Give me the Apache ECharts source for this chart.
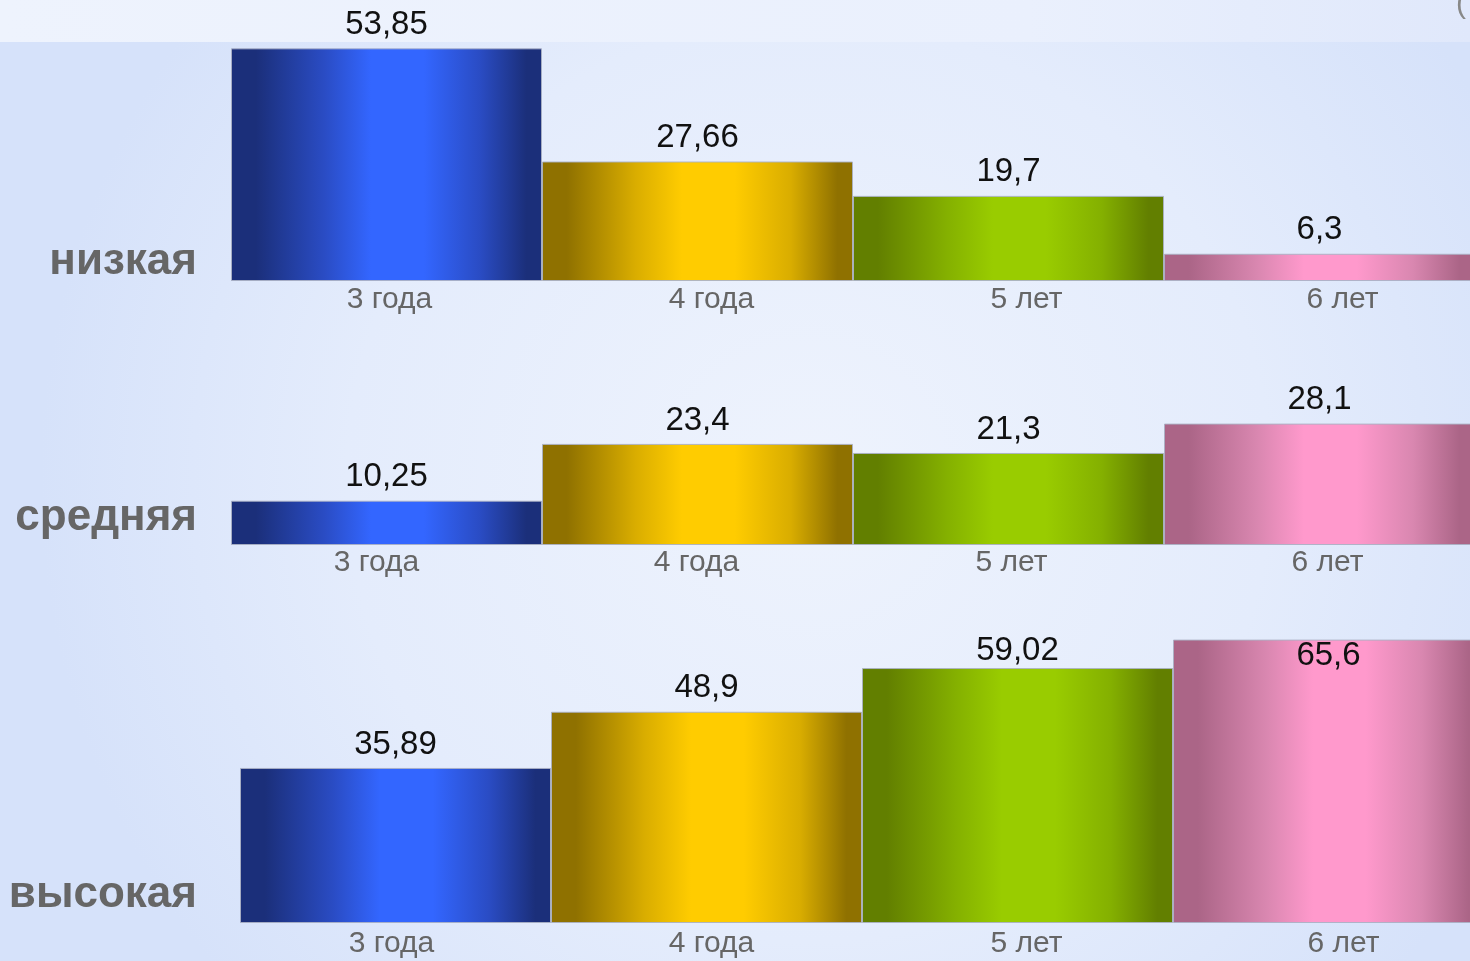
<!DOCTYPE html>
<html><head><meta charset="utf-8">
<script src="https://cdn.jsdelivr.net/npm/echarts@6/dist/echarts.min.js"></script>
<style>html,body{margin:0;padding:0;width:1470px;height:961px;overflow:hidden;}#c{width:1470px;height:961px;}</style>
</head><body><div id="c"></div>
<script>
// ---- data ----
const categories = ['3 года', '4 года', '5 лет', '6 лет'];
const rowLabels = ['низкая', 'средняя', 'высокая'];
const lowValues = [53.85, 27.66, 19.7, 6.3];
const mediumValues = [10.25, 23.4, 21.3, 28.1];
const highValues = [35.89, 48.9, 59.02, 65.6];

// ---- layout / style ----
const rows = [lowValues, mediumValues, highValues];
const scale = 4.32; // px per unit
const panels = [
  {left: 231, right: -5, baseline: 281, max: 60, labelShift: [3, 14, 18, 23], margin: 4, labelY: 262},
  {left: 231, right: -5, baseline: 545, max: 40, labelShift: [-10, -1, 3, 8], margin: 3, labelY: 518},
  {left: 240, right: -14, baseline: 923, max: 70, labelShift: [-4, 5, 9, 15], margin: 6, labelY: 895}
];
const palette = [
  ['#1b2f7a', '#2a4cc4', '#3366ff'],
  ['#8f7100', '#d9ad00', '#ffcc00'],
  ['#627f00', '#84b000', '#99cc00'],
  ['#ab6587', '#d987b0', '#ff99cc']
];
function grad(c) {
  return new echarts.graphic.LinearGradient(0, 0, 1, 0, [
    {offset: 0, color: c[0]}, {offset: 0.08, color: c[0]},
    {offset: 0.3, color: c[1]}, {offset: 0.45, color: c[2]}, {offset: 0.62, color: c[2]},
    {offset: 0.8, color: c[1]}, {offset: 0.95, color: c[0]}, {offset: 1, color: c[0]}
  ]);
}
const fmt = v => String(v).replace('.', ',');

const grids = [], xAxes = [], yAxes = [], series = [];
panels.forEach((p, k) => {
  const h = p.max * scale;
  grids.push({left: p.left, right: p.right, top: p.baseline - h, height: h,
              containLabel: false, outerBoundsMode: 'none'});
  xAxes.push({
    type: 'category', gridIndex: k,
    data: categories.map((c, i) => {
      const s = p.labelShift[i];
      return {value: c, textStyle: {padding: s >= 0 ? [0, 0, 0, 2 * s] : [0, -2 * s, 0, 0]}};
    }),
    axisLine: {show: false}, axisTick: {show: false},
    axisLabel: {color: '#666666', fontSize: 30, fontFamily: 'Liberation Sans, Arial, sans-serif', margin: p.margin, interval: 0}
  });
  yAxes.push({type: 'value', gridIndex: k, min: 0, max: p.max, show: false, splitLine: {show: false}});
  series.push({
    type: 'bar', xAxisIndex: k, yAxisIndex: k, barCategoryGap: '0%', animation: false,
    data: rows[k].map((v, i) => {
      const item = {value: v, itemStyle: {color: grad(palette[i])}};
      if (k === 2 && i === 3) item.label = {position: 'insideTop', distance: 0};
      if (k === 2 && i === 2) item.label = {distance: 1};
      return item;
    }),
    itemStyle: {borderColor: 'rgba(170,176,196,0.9)', borderWidth: 1},
    label: {show: true, position: 'top', distance: 7, color: '#111111', fontSize: 33,
            fontFamily: 'Liberation Sans, Arial, sans-serif', formatter: d => fmt(d.value)}
  });
});

const graphics = [
  {type: 'rect', left: 0, top: 0, z: -10, shape: {width: 1470, height: 961},
   style: {fill: new echarts.graphic.RadialGradient(0.55, 0.5, 0.8, [
     {offset: 0, color: '#eef3fd'}, {offset: 0.6, color: '#e4ecfc'}, {offset: 1, color: '#d6e2fa'}])}},
  {type: 'rect', left: 0, top: 0, z: -9, shape: {width: 1470, height: 42},
   style: {fill: new echarts.graphic.LinearGradient(0, 0, 1, 0, [
     {offset: 0, color: '#eef3fd'}, {offset: 0.7, color: '#eaf0fd'}, {offset: 1, color: '#e0e8fb'}])}},
  {type: 'text', left: 1456, top: -10, z: 5, style: {text: '(', fontSize: 30, fill: '#888', fontFamily: 'Liberation Sans'}}
];
rowLabels.forEach((t, k) => {
  graphics.push({type: 'text', z: 5, x: 197, y: panels[k].labelY,
    style: {text: t, fontSize: 44, fontWeight: 'bold', fill: '#666666', align: 'right', verticalAlign: 'middle',
            fontFamily: 'Liberation Sans, Arial, sans-serif'}});
});

const chart = echarts.init(document.getElementById('c'), null, {renderer: 'canvas'});
chart.setOption({
  backgroundColor: '#dfe8fb',
  animation: false,
  grid: grids, xAxis: xAxes, yAxis: yAxes, series: series,
  graphic: graphics
});
</script></body></html>
